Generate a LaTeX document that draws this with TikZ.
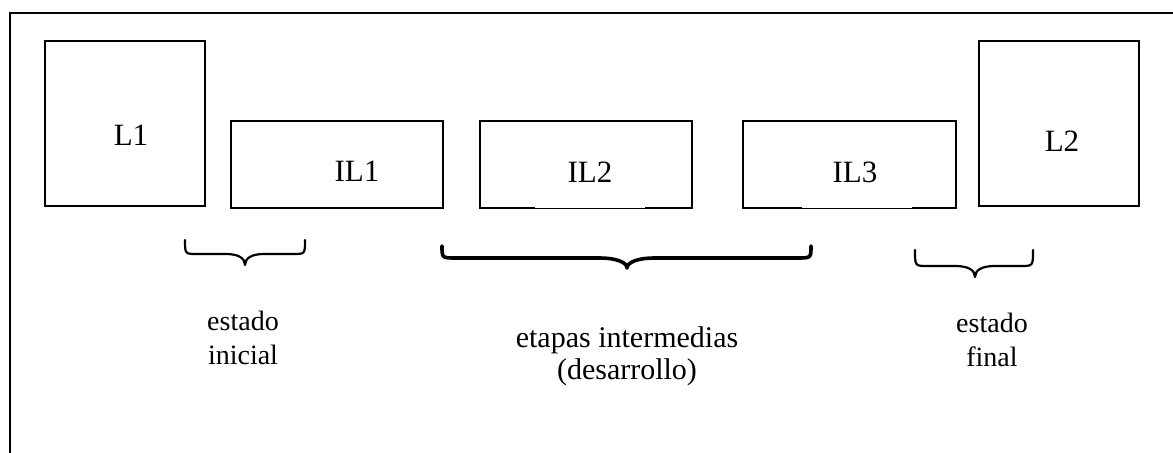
\documentclass[tikz,border=0pt]{standalone}
\usepackage{fontspec}
\setmainfont{Liberation Serif}
\begin{document}
\begin{tikzpicture}[x=0.5pt, y=-0.5pt,
  box/.style={draw, line width=1.3pt, inner sep=0pt, rectangle},
  boxlabel/.style={anchor=base, inner sep=0pt, font=\fontsize{15.5}{18}\selectfont},
  sidelabel/.style={align=center, inner sep=0pt, font=\fontsize{14}{17}\selectfont},
  midlabel/.style={align=center, inner sep=0pt, font=\fontsize{15}{16}\selectfont},
  curly/.style={line width=1.1pt, line cap=round, line join=round},
  curlybig/.style={line width=1.8pt, line cap=round, line join=round}]
\useasboundingbox (0,0) rectangle (1173,453);

% frame: top and left edges
\draw[line width=1.3pt] (1173,13) -- (10,13) -- (10,453);

% boxes
\node[box, minimum width=80pt,  minimum height=82.5pt] (L1)  at (125,123.5)  {};
\node[box, minimum width=106pt, minimum height=43.5pt] (IL1) at (337,164.5)  {};
\node[box, minimum width=106pt, minimum height=43.5pt] (IL2) at (586,164.5)  {};
\node[box, minimum width=106.5pt, minimum height=43.5pt] (IL3) at (849.5,164.5) {};
\node[box, minimum width=80pt,  minimum height=82.5pt] (L2)  at (1059,123.5) {};

% thinner stretches on the bottom edges of IL2 and IL3
\fill[white] (535,206.4) rectangle (645,208.3);
\fill[white] (802,206.4) rectangle (912,208.3);

% box labels
\node[boxlabel] (tL1)  at (131,146) {L1};
\node[boxlabel] (tIL1) at (357,182) {IL1};
\node[boxlabel] (tIL2) at (590,183) {IL2};
\node[boxlabel] (tIL3) at (855,183) {IL3};
\node[boxlabel] (tL2)  at (1062,152) {L2};

% braces
\draw[curly] (185,240) .. controls (185,254) and (185,254) .. (197,254)
  -- (226,254) .. controls (238,254) and (245,258) .. (245,265)
  .. controls (245,258) and (252,254) .. (264,254)
  -- (293,254) .. controls (305,254) and (305,254) .. (305,240);
\draw[curlybig] (442,246) .. controls (442,258) and (442,258) .. (456,258)
  -- (600,258) .. controls (615,258) and (627,262) .. (627,268)
  .. controls (627,262) and (639,258) .. (654,258)
  -- (797,258) .. controls (811,258) and (811,258) .. (811,246);
\draw[curly] (915,250) .. controls (915,266) and (915,266) .. (927,266)
  -- (955,266) .. controls (968,266) and (975,270) .. (975,277)
  .. controls (975,270) and (982,266) .. (995,266)
  -- (1021,266) .. controls (1033,266) and (1033,266) .. (1033,250);

% captions
\node[sidelabel] (ini) at (243,338) {estado\\inicial};
\node[midlabel]  (mid) at (627,356) {etapas intermedias\\(desarrollo)};
\node[sidelabel] (fin) at (992,340) {estado\\final};
\end{tikzpicture}
\end{document}
